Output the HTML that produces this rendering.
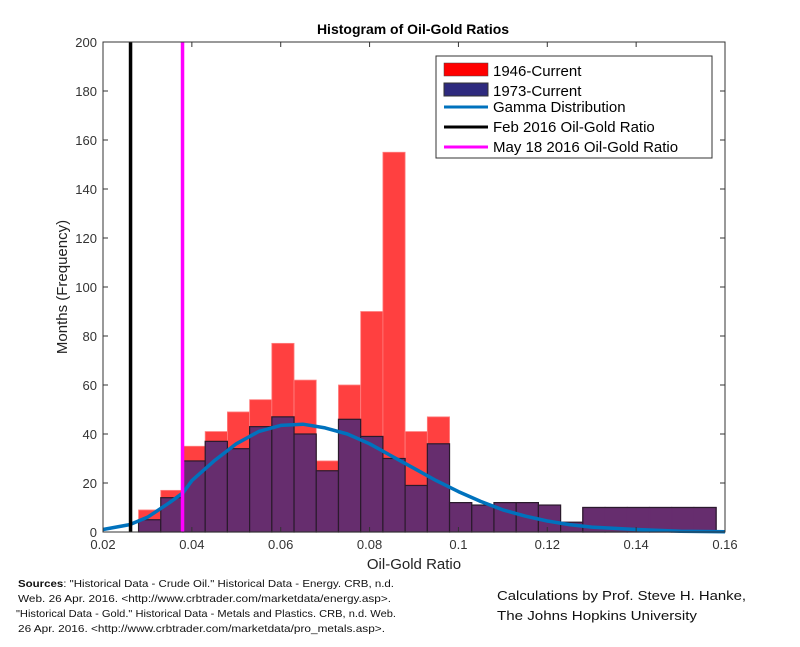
<!DOCTYPE html>
<html><head><meta charset="utf-8"><style>
body{margin:0;background:#fff;font-family:"Liberation Sans",Arial,sans-serif}
svg text{font-family:"Liberation Sans",Arial,sans-serif}
</style></head><body>
<svg id="chart" width="800" height="642" viewBox="0 0 800 642" xmlns="http://www.w3.org/2000/svg">
<rect width="800" height="642" fill="#fff"/>
<text x="413" y="34" font-size="14" font-weight="bold" text-anchor="middle" fill="#000">Histogram of Oil-Gold Ratios</text>
<g id="bars"></g>
<g id="lines"></g>
<rect x="103" y="42" width="622" height="490" fill="none" stroke="#333" stroke-width="1"/>
<g id="ticks"></g>
<text transform="translate(67,287) rotate(-90)" font-size="15" text-anchor="middle" fill="#222">Months (Frequency)</text>
<text x="414" y="569" font-size="15" text-anchor="middle" fill="#222">Oil-Gold Ratio</text>
<g>
<rect x="436" y="56" width="276" height="102" fill="#fff" stroke="#333"/>
<rect x="444" y="63" width="44" height="13" fill="#ff0000" stroke="#444" stroke-width="0.5"/>
<text x="493" y="76" font-size="15">1946-Current</text>
<rect x="444" y="83" width="44" height="13" fill="#2e2a7e" stroke="#333"/>
<text x="493" y="96" font-size="15">1973-Current</text>
<line x1="444" y1="107" x2="488" y2="107" stroke="#0072bd" stroke-width="3"/>
<text x="493" y="112" font-size="15">Gamma Distribution</text>
<line x1="444" y1="127" x2="488" y2="127" stroke="#000" stroke-width="3"/>
<text x="493" y="132" font-size="15">Feb 2016 Oil-Gold Ratio</text>
<line x1="444" y1="147" x2="488" y2="147" stroke="#ff00ff" stroke-width="3"/>
<text x="493" y="152" font-size="15">May 18 2016 Oil-Gold Ratio</text>
</g>
<g font-size="10.5" fill="#111">
<text x="18" y="587" textLength="376" lengthAdjust="spacingAndGlyphs"><tspan font-weight="bold">Sources</tspan>: "Historical Data - Crude Oil." Historical Data - Energy. CRB, n.d.</text>
<text x="18" y="602" textLength="373" lengthAdjust="spacingAndGlyphs">Web. 26 Apr. 2016. &lt;http://www.crbtrader.com/marketdata/energy.asp&gt;.</text>
<text x="16" y="617" textLength="380" lengthAdjust="spacingAndGlyphs">"Historical Data - Gold." Historical Data - Metals and Plastics. CRB, n.d. Web.</text>
<text x="18" y="632" textLength="367" lengthAdjust="spacingAndGlyphs">26 Apr. 2016. &lt;http://www.crbtrader.com/marketdata/pro_metals.asp&gt;.</text>
</g>
<g font-size="13" fill="#111">
<text x="497" y="600" textLength="249" lengthAdjust="spacingAndGlyphs">Calculations by Prof. Steve H. Hanke,</text>
<text x="497" y="620" textLength="200" lengthAdjust="spacingAndGlyphs">The Johns Hopkins University</text>
</g>
</svg>
<script>
const binStart = 0.028;
const binWidth = 0.005;
const red1946 = [9,17,35,41,49,54,77,62,29,60,90,155,41,47,12,11,12,12,11,4,10,10,10,10,10,10];
const purple1973 = [5,14,29,37,34,43,47,40,25,46,39,30,19,36,12,11,12,12,11,4,10,10,10,10,10,10];
const gammaX = [0.02,0.026,0.03,0.035,0.038,0.04,0.045,0.05,0.055,0.06,0.065,0.07,0.075,0.08,0.085,0.09,0.095,0.1,0.105,0.11,0.115,0.12,0.125,0.13,0.14,0.15,0.16];
const gammaY = [1,3,6,12,16,21,29,36,41,43.5,44,42.5,40,36,31,26,21,16.5,12.5,9,6.5,4.5,3,2,1,0.3,0.1];
const febRatio = 0.0262;
const mayRatio = 0.0379;
const xTicks = [0.02,0.04,0.06,0.08,0.1,0.12,0.14,0.16];
const xTickLabels = ["0.02","0.04","0.06","0.08","0.1","0.12","0.14","0.16"];
const yTicks = [0,20,40,60,80,100,120,140,160,180,200];

const NS="http://www.w3.org/2000/svg";
const X0=103,X1=725,Y0=532,Y1=42;
function xs(v){return X0+(v-0.02)/(0.16-0.02)*(X1-X0);}
function ys(v){return Y0-v/200*(Y0-Y1);}
function mk(tag,attrs,parent){const e=document.createElementNS(NS,tag);for(const k in attrs)e.setAttribute(k,attrs[k]);parent.appendChild(e);return e;}
const bars=document.getElementById('bars');
red1946.forEach((v,i)=>{
  const a=xs(binStart+i*binWidth),b=xs(binStart+(i+1)*binWidth);
  const r=mk('rect',{x:a,y:ys(v),width:b-a,height:Y0-ys(v),fill:'#ff4040',stroke:'#ff8080','stroke-width':0.8},bars);
  
  
});
purple1973.forEach((v,i)=>{
  const a=xs(binStart+i*binWidth),b=xs(binStart+(i+1)*binWidth);
  const wide=i>=20;
  const r=mk('rect',{x:a,y:ys(v),width:b-a,height:Y0-ys(v),fill:'#662d6e',stroke:wide?'#662d6e':'#2a1a2c','stroke-width':1.2},bars);
  
  
});
(function(){const i0=20,i1=purple1973.length;const a=xs(binStart+i0*binWidth),b=xs(binStart+i1*binWidth);
const r=mk('rect',{x:a,y:ys(purple1973[i0]),width:b-a,height:Y0-ys(purple1973[i0]),fill:'none',stroke:'#2a1a2c','stroke-width':1.2},bars);

})();
const lines=document.getElementById('lines');
const pts=gammaX.map((x,i)=>xs(x).toFixed(1)+','+ys(gammaY[i]).toFixed(1)).join(' ');
const g=mk('polyline',{points:pts,fill:'none',stroke:'#0072bd','stroke-width':3.5,'stroke-linejoin':'round'},lines);


const fl=mk('line',{x1:xs(febRatio),x2:xs(febRatio),y1:Y1,y2:Y0,stroke:'#000','stroke-width':3.5},lines);


const ml=mk('line',{x1:xs(mayRatio),x2:xs(mayRatio),y1:Y1,y2:Y0,stroke:'#ff00ff','stroke-width':3.5},lines);


const ticks=document.getElementById('ticks');
xTicks.forEach((t,i)=>{
  const x=xs(t);
  mk('line',{x1:x,x2:x,y1:Y0,y2:Y0-5,stroke:'#333'},ticks);
  mk('line',{x1:x,x2:x,y1:Y1,y2:Y1+5,stroke:'#333'},ticks);
  const tx=mk('text',{x:x,y:Y0+17,'font-size':13,'text-anchor':'middle',fill:'#333'},ticks);
  tx.textContent=xTickLabels[i];
  
  
});
yTicks.forEach(t=>{
  const y=ys(t);
  mk('line',{x1:X0,x2:X0+5,y1:y,y2:y,stroke:'#333'},ticks);
  mk('line',{x1:X1,x2:X1-5,y1:y,y2:y,stroke:'#333'},ticks);
  const tx=mk('text',{x:X0-6,y:y+5,'font-size':13,'text-anchor':'end',fill:'#333'},ticks);
  tx.textContent=String(t);
  
  
});
</script>
</body></html>
